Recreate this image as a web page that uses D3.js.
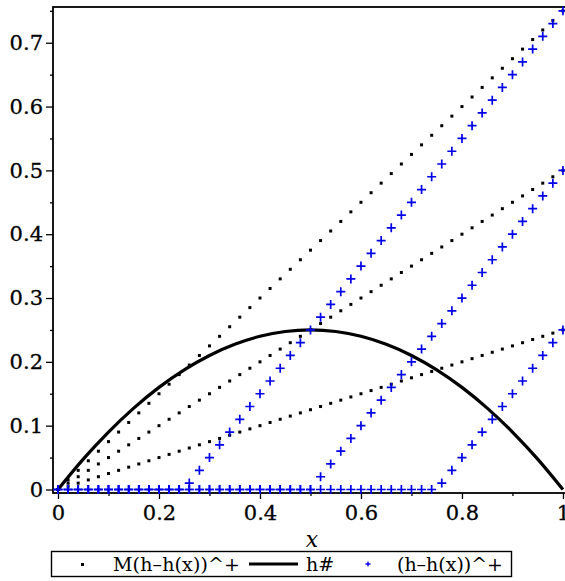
<!DOCTYPE html>
<html>
<head>
<meta charset="utf-8">
<script src="https://cdn.jsdelivr.net/npm/d3@7"></script>
<style>
  body { margin: 0; background: #fff; }
  text { font-family: "DejaVu Serif", serif; }
</style>
</head>
<body>
<div class="canva"></div>
<script>
// sample x positions (shared by the point series)
const xs = [0,0.02,0.04,0.06,0.08,0.1,0.12,0.14,0.16,0.18,0.2,0.22,0.24,0.26,0.28,0.3,0.32,0.34,0.36,0.38,0.4,0.42,0.44,0.46,0.48,0.5,0.52,0.54,0.56,0.58,0.6,0.62,0.64,0.66,0.68,0.7,0.72,0.74,0.76,0.78,0.8,0.82,0.84,0.86,0.88,0.9,0.92,0.94,0.96,0.98,1]

// M(h-h(x))^+ , black dots
const mLow = [0,0.005,0.01,0.015,0.02,0.025,0.03,0.035,0.04,0.045,0.05,0.055,0.06,0.065,0.07,0.075,0.08,0.085,0.09,0.095,0.1,0.105,0.11,0.115,0.12,0.125,0.13,0.135,0.14,0.145,0.15,0.155,0.16,0.165,0.17,0.175,0.18,0.185,0.19,0.195,0.2,0.205,0.21,0.215,0.22,0.225,0.23,0.235,0.24,0.245,0.25]
const mMid = [0,0.01,0.02,0.03,0.04,0.05,0.06,0.07,0.08,0.09,0.1,0.11,0.12,0.13,0.14,0.15,0.16,0.17,0.18,0.19,0.2,0.21,0.22,0.23,0.24,0.25,0.26,0.27,0.28,0.29,0.3,0.31,0.32,0.33,0.34,0.35,0.36,0.37,0.38,0.39,0.4,0.41,0.42,0.43,0.44,0.45,0.46,0.47,0.48,0.49,0.5]
const mHigh = [0,0.015,0.03,0.045,0.06,0.075,0.09,0.105,0.12,0.135,0.15,0.165,0.18,0.195,0.21,0.225,0.24,0.255,0.27,0.285,0.3,0.315,0.33,0.345,0.36,0.375,0.39,0.405,0.42,0.435,0.45,0.465,0.48,0.495,0.51,0.525,0.54,0.555,0.57,0.585,0.6,0.615,0.63,0.645,0.66,0.675,0.69,0.705,0.72,0.735,0.75]

// (h-h(x))^+ , blue crosses
const pA = [0,0,0,0,0,0,0,0,0,0,0,0,0,0.01,0.03,0.05,0.07,0.09,0.11,0.13,0.15,0.17,0.19,0.21,0.23,0.25,0.27,0.29,0.31,0.33,0.35,0.37,0.39,0.41,0.43,0.45,0.47,0.49,0.51,0.53,0.55,0.57,0.59,0.61,0.63,0.65,0.67,0.69,0.71,0.73,0.75]
const pB = [0,0,0,0,0,0,0,0,0,0,0,0,0,0,0,0,0,0,0,0,0,0,0,0,0,0,0.02,0.04,0.06,0.08,0.1,0.12,0.14,0.16,0.18,0.2,0.22,0.24,0.26,0.28,0.3,0.32,0.34,0.36,0.38,0.4,0.42,0.44,0.46,0.48,0.5]
const pC = [0,0,0,0,0,0,0,0,0,0,0,0,0,0,0,0,0,0,0,0,0,0,0,0,0,0,0,0,0,0,0,0,0,0,0,0,0,0,0.01,0.03,0.05,0.07,0.09,0.11,0.13,0.15,0.17,0.19,0.21,0.23,0.25]

// h# curve
const hx = [0,0.05,0.1,0.15,0.2,0.25,0.3,0.35,0.4,0.45,0.5,0.55,0.6,0.65,0.7,0.75,0.8,0.85,0.9,0.95,1]
const hy = [0,0.0475,0.09,0.1275,0.16,0.1875,0.21,0.2275,0.24,0.2475,0.25,0.2475,0.24,0.2275,0.21,0.1875,0.16,0.1275,0.09,0.0475,0]

// ticks
const xTicks = [0,0.2,0.4,0.6,0.8,1]
const xMinor = [0.1,0.3,0.5,0.7,0.9]
const yTicks = [0,0.1,0.2,0.3,0.4,0.5,0.6,0.7]
const yMinor = [0.05,0.15,0.25,0.35,0.45,0.55,0.65,0.75]

const svg = d3.select('.canva').append('svg')
    .attr('width', 565)
    .attr('height', 581)

const x = d3.scaleLinear().domain([-0.0099, 1.01]).range([53, 568])
const y = d3.scaleLinear().domain([-0.0055, 0.756]).range([493, 7])

const fmt = d => d === 0 ? '0' : d === 1 ? '1' : String(d)

//Axes
svg.append('g')
    .attr('transform', 'translate(0,493)')
    .call(d3.axisBottom(x).tickValues(xMinor).tickSize(3).tickFormat(''))
svg.append('g')
    .attr('transform', 'translate(0,493)')
    .call(d3.axisBottom(x).tickValues(xTicks).tickSize(6).tickPadding(6).tickFormat(fmt))
svg.append('g')
    .attr('transform', 'translate(53,0)')
    .call(d3.axisLeft(y).tickValues(yMinor).tickSize(3).tickFormat(''))
svg.append('g')
    .attr('transform', 'translate(53,0)')
    .call(d3.axisLeft(y).tickValues(yTicks).tickSize(7).tickPadding(3).tickFormat(fmt))

svg.selectAll('.domain').remove()
svg.selectAll('.tick line').attr('stroke', '#000').attr('stroke-width', 1.3)
svg.selectAll('.tick text')
    .attr('fill', '#000')
    .attr('font-size', '21px')
    .attr('stroke', '#000')
    .attr('stroke-width', 0.3)
    .style('font-family', '"DejaVu Serif", serif')

//Box
svg.append('rect')
    .attr('x', 53)
    .attr('y', 7)
    .attr('width', 515)
    .attr('height', 486)
    .attr('fill', 'none')
    .attr('stroke', '#000')
    .attr('stroke-width', 1.8)

//Black dots
const dotSeries = [mLow, mMid, mHigh]
dotSeries.forEach(ys => {
  svg.append('g').selectAll('rect')
    .data(xs.map((v, i) => [v, ys[i]]))
    .enter().append('rect')
    .attr('x', d => x(d[0]) - 1.5)
    .attr('y', d => y(d[1]) - 1.5)
    .attr('width', 3)
    .attr('height', 3)
    .attr('fill', '#000')
})

//h# curve
const line = d3.line()
    .x((d, i) => x(hx[i]))
    .y(d => y(d))
    .curve(d3.curveNatural)
svg.append('path')
    .attr('d', line(hy))
    .attr('fill', 'none')
    .attr('stroke', '#000')
    .attr('stroke-width', 3.2)

//Blue crosses
const crossSeries = [pA, pB, pC]
crossSeries.forEach(ys => {
  svg.append('g').selectAll('path')
    .data(xs.map((v, i) => [v, ys[i]]))
    .enter().append('path')
    .attr('d', 'M-4.5,0H4.5M0,-4.5V4.5')
    .attr('transform', d => `translate(${x(d[0])},${y(d[1])})`)
    .attr('stroke', '#0000e6')
    .attr('stroke-width', 1.7)
})

//x label
svg.append('text')
    .text('x')
    .attr('x', 312)
    .attr('y', 547)
    .attr('text-anchor', 'middle')
    .attr('font-size', '22px')
    .attr('font-style', 'italic')

//Legend
const lg = svg.append('g')
lg.append('rect')
    .attr('x', 51.5)
    .attr('y', 551.5)
    .attr('width', 460)
    .attr('height', 25)
    .attr('fill', 'none')
    .attr('stroke', '#000')
    .attr('stroke-width', 1.4)
lg.append('rect')
    .attr('x', 81)
    .attr('y', 563)
    .attr('width', 3)
    .attr('height', 3)
    .attr('fill', '#000')
lg.append('text')
    .text('M(h–h(x))^+')
    .attr('x', 113)
    .attr('y', 571)
    .attr('font-size', '19px')
    .attr('textLength', 127)
lg.append('line')
    .attr('x1', 249)
    .attr('x2', 298)
    .attr('y1', 564)
    .attr('y2', 564)
    .attr('stroke', '#000')
    .attr('stroke-width', 3)
lg.append('text')
    .text('h#')
    .attr('x', 306)
    .attr('y', 571)
    .attr('font-size', '19px')
lg.append('path')
    .attr('d', 'M-2.5,0H2.5M0,-2.5V2.5')
    .attr('transform', 'translate(368,564)')
    .attr('stroke', '#0000e6')
    .attr('stroke-width', 1.3)
lg.append('text')
    .text('(h–h(x))^+')
    .attr('x', 397)
    .attr('y', 571)
    .attr('font-size', '19px')
    .attr('textLength', 106)
</script>
</body>
</html>
